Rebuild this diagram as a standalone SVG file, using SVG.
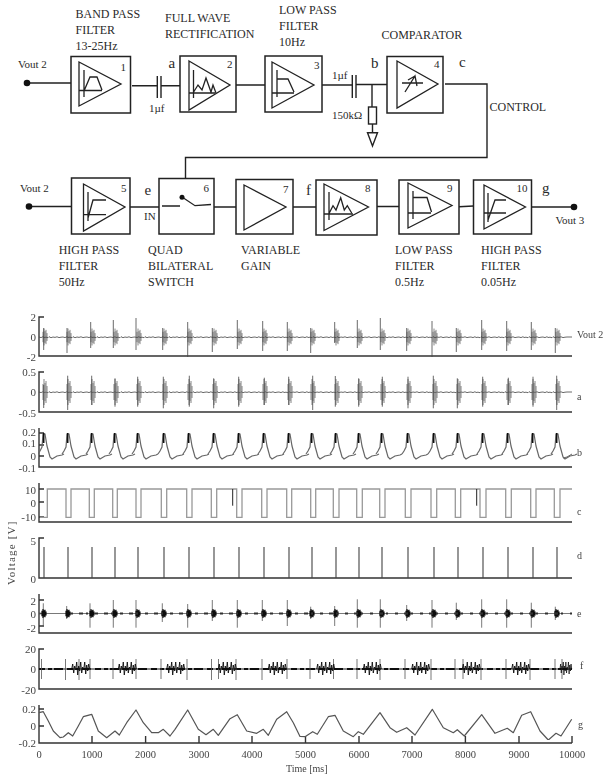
<svg xmlns="http://www.w3.org/2000/svg" width="603" height="776" viewBox="0 0 603 776">
<style>
text{font-family:"Liberation Serif","Times New Roman",serif;fill:#2a2a2a;font-size:12px}
.n{font-size:11px}.l{font-size:15px}.s{font-size:11px}
.ax{font-size:11px;text-anchor:end;fill:#444}.xt{font-size:10.5px;text-anchor:middle;fill:#444}.rl{font-size:10px;fill:#444}
.box{fill:#fff;stroke:#222;stroke-width:1.5}
.tri,.ic{fill:none;stroke:#222;stroke-width:1.3;stroke-linejoin:miter}
.w{fill:none;stroke:#222;stroke-width:1.4}
.axis{fill:none;stroke:#333;stroke-width:1.4}
.tr{fill:none;stroke:#444;stroke-width:.8}
</style>
<defs>
<filter id="soft" x="0" y="0" width="1" height="1"><feGaussianBlur stdDeviation=".35"/></filter>
<path id="c" d="M0,0l2,.6 2,-.9 1,.8 2,-.3 2,.5 1,-1 2,1 2,-.7 2,.4 2,-.6 2,.8 2,-.4 2,-.2"/>
<g id="noise"><use href="#c" x="39"/><use href="#c" x="63"/><use href="#c" x="87"/><use href="#c" x="111"/><use href="#c" x="135"/><use href="#c" x="159"/><use href="#c" x="183"/><use href="#c" x="207"/><use href="#c" x="231"/><use href="#c" x="255"/><use href="#c" x="279"/><use href="#c" x="303"/><use href="#c" x="327"/><use href="#c" x="351"/><use href="#c" x="375"/><use href="#c" x="399"/><use href="#c" x="423"/><use href="#c" x="447"/><use href="#c" x="471"/><use href="#c" x="495"/><use href="#c" x="519"/><use href="#c" x="543"/><path d="M567,0H572"/></g>
<path id="bb" d="M-1,-8V8M0,-13V13M1,-9V9M2,-11V11M3,-6V6"/>
<g id="br"><use href="#bb" x="44"/><use href="#bb" x="68"/><use href="#bb" x="92"/><use href="#bb" x="115"/><use href="#bb" x="138"/><use href="#bb" x="164"/><use href="#bb" x="189"/><use href="#bb" x="214"/><use href="#bb" x="239"/><use href="#bb" x="264"/><use href="#bb" x="289"/><use href="#bb" x="312"/><use href="#bb" x="336"/><use href="#bb" x="359"/><use href="#bb" x="382"/><use href="#bb" x="408"/><use href="#bb" x="434"/><use href="#bb" x="458"/><use href="#bb" x="483"/><use href="#bb" x="508"/><use href="#bb" x="533"/><use href="#bb" x="557"/></g>
<g id="bp"><path d="M-6,0l2,-3 2,-4 1,-13 2,0 2,12 3,11 2,2 5,-3 5,-1 2,-1" fill="none" stroke="#666" stroke-width="1.200"/><path d="M-.3,-21V-11" stroke="#111" stroke-width="1.600"/></g>
<path id="fb" d="M0,0l1,-5 1,9 1,-7 1,4 1,-8 1,13 1,-9 1,5 1,-9 1,11 1,-6 1,3 1,-8 1,12 1,-9 1,6 1,-7 1,5"/>
</defs>

<g id="connectors">
<path class="w" d="M27,83H71M132,85.700H157M161,85.700H180M236,85H265M322,85H352M356,84.500H387M372,84.500V107M372.500,124V133M157.300,76V98M161,76V98M352.300,75V98M356,75V98"/>
<path class="w" d="M445,84H487V157.500H185.500V178"/>
<path class="w" d="M29,206.500H72M130,207H159M214,207H236M293,207H316M377,206.500H399M459,206.700L473.500,206M532,207H574"/>
<circle cx="27" cy="83" r="3.300" fill="#111"/><circle cx="29" cy="206.500" r="3.300" fill="#111"/><circle cx="574" cy="207" r="3.300" fill="#111"/>
<rect x="368.500" y="107" width="8" height="17" fill="#fff" stroke="#222" stroke-width="1.400"/>
<path d="M367.500,132.700H377.500L372.500,146Z" fill="#fff" stroke="#222" stroke-width="1.400"/>
</g>

<g id="node1"><rect class="box" x="71" y="56.500" width="59.500" height="56.500"/><path class="tri" d="M79,62L121,84L79,106Z"/><path class="ic" d="M84,70V97M79,90.500H102M84,91L90,77H97L102,90"/><text class="n" x="120.500" y="71">1</text></g>
<g id="node2"><rect class="box" x="180" y="56" width="56" height="56"/><path class="tri" d="M189,61L230,85L189,110Z"/><path class="ic" d="M193.500,70V98M189,93H215M193,93L198,85L202,90L206,78L211,92L213,85L216,93"/><text class="n" x="227" y="68">2</text></g>
<g id="node3"><rect class="box" x="265" y="56" width="57" height="56"/><path class="tri" d="M272,62L314,85L272,108Z"/><path class="ic" d="M277,70V97M272,93H294M277,79H288L294,92"/><text class="n" x="314" y="69">3</text></g>
<g id="node4"><rect class="box" x="387" y="56.500" width="56" height="56.500"/><path class="tri" d="M397,61L438,84L397,108Z"/><path class="ic" d="M402,83H423M405,92L415,76L417,86M408,80L415,76"/><text class="n" x="434" y="68">4</text></g>
<g id="node5"><rect class="box" x="71.500" y="178" width="58.500" height="56"/><path class="tri" d="M83.500,184L125,207L83.500,231Z"/><path class="ic" d="M88,192V221M84,214.700H106M88,218L93,200H106"/><text class="n" x="121" y="192">5</text></g>
<g id="node6"><rect class="box" x="159" y="178.500" width="55" height="55.500"/><path class="ic" d="M162,206H180M182,197L195,205.700L211,204.500"/><circle cx="182" cy="197.300" r="2.500" fill="#111"/><text class="n" x="203.500" y="192">6</text></g>
<g id="node7"><rect class="box" x="236" y="179.500" width="57" height="54.500"/><path class="tri" d="M244,185L286,207L244,230Z"/><text class="n" x="283" y="193">7</text></g>
<g id="node8"><rect class="box" x="316" y="180" width="61" height="55"/><path class="tri" d="M324,184L368.500,207L324,230.500Z"/><path class="ic" d="M329,192V220M324,214H353M329.300,213L333,205.700L336,210L340.700,197.700L344.300,210L347.300,205.700L351.700,213"/><text class="n" x="365" y="192">8</text></g>
<g id="node9"><rect class="box" x="399" y="180" width="60" height="54"/><path class="tri" d="M408,183L452,205.500L408,228Z"/><path class="ic" d="M413,191V219M408,213H431M413,197.500H427L431.500,212"/><text class="n" x="447" y="192">9</text></g>
<g id="node10"><rect class="box" x="473.500" y="180" width="58" height="54"/><path class="tri" d="M484,185L525.500,207L484,229Z"/><path class="ic" d="M488,193V222M484,213H506M488,220L495,200H506"/><text class="n" x="516.500" y="192">10</text></g>

<g id="labels">
<text class="n" x="18" y="68">Vout 2</text><text class="n" x="20" y="192">Vout 2</text><text class="n" x="555.500" y="224">Vout 3</text>
<text x="75.500" y="18">BAND PASS</text><text x="75.500" y="34">FILTER</text><text x="75.500" y="50">13-25Hz</text>
<text x="165" y="22">FULL WAVE</text><text x="165" y="38">RECTIFICATION</text>
<text x="279" y="14">LOW PASS</text><text x="279" y="30">FILTER</text><text x="279" y="46">10Hz</text>
<text x="381.500" y="39">COMPARATOR</text><text x="489.500" y="111">CONTROL</text>
<text class="s" x="149" y="112">1µf</text><text class="s" x="332" y="79">1µf</text><text class="s" x="332" y="119">150kΩ</text><text class="s" x="144" y="220">IN</text>
<text class="l" x="168.500" y="68">a</text><text class="l" x="371" y="68">b</text><text class="l" x="459" y="67">c</text><text class="l" x="144.500" y="195">e</text><text class="l" x="306" y="195">f</text><text class="l" x="542" y="193">g</text>
<text x="58.700" y="254">HIGH PASS</text><text x="58.700" y="270">FILTER</text><text x="58.700" y="286">50Hz</text>
<text x="148" y="254">QUAD</text><text x="148" y="270">BILATERAL</text><text x="148" y="286">SWITCH</text>
<text x="241" y="254">VARIABLE</text><text x="241" y="270">GAIN</text>
<text x="395" y="254">LOW PASS</text><text x="395" y="270">FILTER</text><text x="395" y="286">0.5Hz</text>
<text x="481" y="254">HIGH PASS</text><text x="481" y="270">FILTER</text><text x="481" y="286">0.05Hz</text>
</g>

<path class="axis" d="M44,317H39V356H572M44,372H39V412H572M44,433H39V428M39,433V467H572M44,445H39M44,456H39M44,489H39V483M39,489V522H572M44,502H39M44,517H39M44,538H39V578H572M44,600H39V594M39,600V633H572M44,613.500H39M44,626H39M44,649H39V689H572M44,669H39M44,709H39V705M39,709V743H572M44,726H39M92,743V736M145.600,743V736M199,743V736M252,743V736M305.500,743V736M359,743V736M412,743V736M465.400,743V736M519,743V736M572,743V736"/>

<g id="traces" filter="url(#soft)">
<use href="#noise" class="tr" y="337"/>
<use href="#br" class="tr" transform="translate(0,337) scale(1,.65)"/>
<path class="tr" stroke-width="1" d="M43.700,328V350M67,328V353M90.700,322V348M113.300,320V348M136,318V350M162.700,328V350M187.700,322V357M212.300,328V352M237.300,320V349M262.700,321V351M287.300,322V351M310.700,328V353M334.700,322V343M357.300,320V348M380.300,318V350M406.700,328V351M432,321V357M456.300,328V352M481.700,320V350M506.700,321V351M531.300,322V350M555.300,328V353"/>
<use href="#noise" class="tr" y="392"/>
<use href="#br" class="tr" style="stroke:#666" transform="translate(0,392)"/>
<path class="tr" d="M43.700,385V408M67.700,375.700V410M91.700,375.700V405M115,378.300V406.700M137.700,376.700V406.700M163.300,376.700V408.300M189.300,375.700V406.700M213.700,378.300V408.300M238.700,376.700V406.700M264.300,377.700V405M288.700,376.700V405M312.700,375.700V410M335.300,376V406.700M358.700,378.300V406.700M382.300,376.700V406.700M408,376.700V408.300M433.300,375.700V408.300M457.300,378.300V408.300M482.700,376.700V406.700M508.300,377.700V405M533,376.700V406.700M556.700,375.700V410"/>

<use href="#bp" x="44" y="454"/><use href="#bp" x="68" y="454"/><use href="#bp" x="92" y="454"/><use href="#bp" x="115" y="454"/><use href="#bp" x="138" y="454"/><use href="#bp" x="164" y="454"/><use href="#bp" x="189" y="454"/><use href="#bp" x="214" y="454"/><use href="#bp" x="239" y="454"/><use href="#bp" x="264" y="454"/><use href="#bp" x="289" y="454"/><use href="#bp" x="312" y="454"/><use href="#bp" x="336" y="454"/><use href="#bp" x="359" y="454"/><use href="#bp" x="382" y="454"/><use href="#bp" x="408" y="454"/><use href="#bp" x="434" y="454"/><use href="#bp" x="458" y="454"/><use href="#bp" x="483" y="454"/><use href="#bp" x="508" y="454"/><use href="#bp" x="533" y="454"/><use href="#bp" x="557" y="454"/>
<path d="M563,458L567,457L572,454" fill="none" stroke="#666"/>

<path fill="none" stroke="#999" stroke-width="1.300" d="M40,517.300H47.300V489H66V517.300H71V489H89.300V517.300H94.300V489H112.700V517.300H117.300V489H136V517.300H141V489H161.300V517.300H166.700V489H186.700V517.300H192V489H211.300V517.300H216.700V489H236.700V517.300H242V489H261.700V517.300H267V489H286.700V517.300H291.700V489H310.700V517.300H315.700V489H333.300V517.300H339V489H356.700V517.300H362.300V489H379.700V517.300H385V489H405.300V517.300H411V489H431V517.300H436.700V489H455.300V517.300H460.700V489H480V517.300H486V489H505.700V517.300H511.300V489H530.700V517.300H536V489H554.300V517.300H560V489H572"/>
<path fill="none" stroke="#222" stroke-width="1" d="M232.700,489V505.700M476.700,489V505.700"/>

<path fill="none" stroke="#444" stroke-width="1.100" d="M44,547V578M68,547V578M92,547V578M115,547V578M138,547V578M164,547V578M189,547V578M214,547V578M239,547V578M264,547V578M289,547V578M312,547V578M336,547V578M359,547V578M382,547V578M408,547V578M434,547V578M458,547V578M483,547V578M508,547V578M533,547V578M557,547V578"/>

<path fill="none" stroke="#555" stroke-width=".8" d="M39,613.500H572M43.300,603.300V626M66.700,606V619M90,603.300V627.700M113.300,600V627.700M136,600V627.700M162.300,603.300V622M187.700,604V627.700M212.300,600V621M237.300,600V627.700M262.300,600V621M287.300,600V626M310.700,606.700V619M334.700,606V626M357.300,599.300V627.700M380.300,599.300V627.700M406.700,605V621M432,600V627.700M456.300,602.700V620M481.700,599.300V627.700M506.700,599.300V627.700M531.300,602.700V627.700M555.300,606.700V620"/>
<use href="#br" style="stroke:#111;stroke-width:1.200" transform="translate(-1,613.500) scale(1,.35)"/>
<path fill="none" stroke="#333" stroke-width="2" stroke-dasharray="3 6 4 3 2 7" d="M70,613.500H572"/>

<path fill="none" stroke="#111" stroke-width="2.200" stroke-dasharray="6 3 4 2 9 4" d="M39,669H572"/>
<path fill="none" stroke="#111" d="M39,669H572"/>
<path fill="none" stroke="#555" stroke-width=".8" d="M41.500,659V679M65.500,659V680M79,659V680M90,659V679M113,659V679M136,659V679M161,659V679M187,659V680M211.500,659V680M218.500,659V679M236,659V680M262,659V680M287,659V679M310,659V679M333.500,659V679M357,659V679M380,659V680M405,659V679M431,659V680M455,659V679M463,659V679M481,659V680M506,659V679M530,659V680M555,659V679M562,659V679"/>
<g fill="none" stroke="#111" stroke-width=".9"><use href="#fb" x="71.700" y="669"/><use href="#fb" x="118.300" y="669"/><use href="#fb" x="166.700" y="669"/><use href="#fb" x="218.300" y="669"/><use href="#fb" x="268.300" y="669"/><use href="#fb" x="316.700" y="669"/><use href="#fb" x="363.300" y="669"/><use href="#fb" x="411.700" y="669"/><use href="#fb" x="462.300" y="669"/><use href="#fb" x="511.700" y="669"/><use href="#fb" transform="translate(560,669) scale(.65,1)"/></g>

<polyline fill="none" stroke="#555" stroke-width="1.200" stroke-linejoin="round" points="39,712.700 43.300,711.700 48.300,721 53.300,731 60,737.700 63.300,737 68.300,732.700 72.700,736 78.300,726 83.300,716.700 91.700,714.300 98.300,731 106.700,737.700 115,731 119.300,735 126.700,722.700 136,710 143.300,722.700 151.700,732.700 158.300,732.700 163.300,729.300 170,736 175,729.300 187.700,710 198.300,729.300 206,734.700 213.300,729.300 218.300,735.300 230,718.700 237.300,714.700 246.700,731 256.700,733.300 263.300,729.300 268.300,735.300 276.700,719.300 286.700,711.700 293.300,722.700 300,736.500 305,736.700 312.700,731.700 317.300,734.300 328.300,716.700 335,715.300 343.300,731 353.300,736.700 358.300,731.700 363.300,734.300 380,712.700 390,727.700 396.700,732.300 406.700,727.700 415,735 432.300,709.300 443.300,727.700 453.300,732.700 457.300,729.700 464.300,736 481.700,714.700 495,733.300 507.300,728.300 513.300,732.700 521.700,715.300 530.700,711.700 540,731 548.300,740 556,733.300 561,736 571.700,719.300"/>
</g>

<g id="chart-text">
<text class="ax" x="36" y="321">2</text><text class="ax" x="36" y="341">0</text><text class="ax" x="36" y="361">-2</text>
<text class="ax" x="36" y="376">0.5</text><text class="ax" x="36" y="396">0</text><text class="ax" x="36" y="417">-0.5</text>
<text class="ax" x="36" y="436">0.2</text><text class="ax" x="36" y="447">0.1</text><text class="ax" x="36" y="460">0</text><text class="ax" x="36" y="472">-0.1</text>
<text class="ax" x="36" y="494">10</text><text class="ax" x="36" y="507">0</text><text class="ax" x="36" y="521">-10</text>
<text class="ax" x="36" y="545">5</text><text class="ax" x="36" y="583">0</text>
<text class="ax" x="36" y="605">2</text><text class="ax" x="36" y="618">0</text><text class="ax" x="36" y="632">-2</text>
<text class="ax" x="36" y="653">20</text><text class="ax" x="36" y="673">0</text><text class="ax" x="36" y="694">-20</text>
<text class="ax" x="36" y="713">0.2</text><text class="ax" x="36" y="730">0</text><text class="ax" x="36" y="747">-0.2</text>
<text class="xt" x="39" y="758">0</text><text class="xt" x="92" y="758">1000</text><text class="xt" x="145.600" y="758">2000</text><text class="xt" x="199" y="758">3000</text><text class="xt" x="252" y="758">4000</text><text class="xt" x="305.500" y="758">5000</text><text class="xt" x="359" y="758">6000</text><text class="xt" x="412" y="758">7000</text><text class="xt" x="465.400" y="758">8000</text><text class="xt" x="519" y="758">9000</text><text class="xt" x="572" y="758">10000</text>
<text class="rl" x="286" y="772">Time [ms]</text>
<text class="rl" x="577" y="338">Vout 2</text><text class="rl" x="577" y="400">a</text><text class="rl" x="577" y="456">b</text><text class="rl" x="577" y="515">c</text><text class="rl" x="577" y="559">d</text><text class="rl" x="577" y="617">e</text><text class="rl" x="580" y="669">f</text><text class="rl" x="578" y="728">g</text>
<text transform="translate(15,585) rotate(-90)" style="font-size:11px;letter-spacing:1.200px;fill:#444">Voltage [V]</text>
</g>
</svg>
